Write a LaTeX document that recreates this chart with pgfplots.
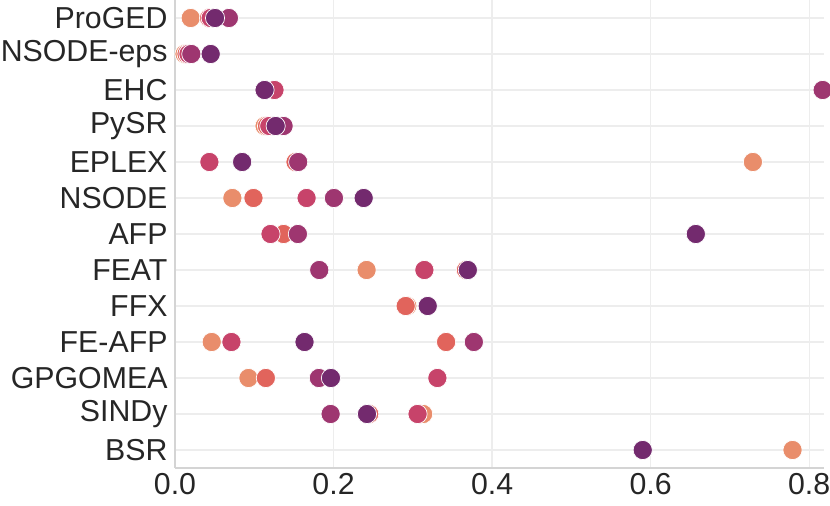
\documentclass[border=0pt]{standalone}
\usepackage{pgfplots}
\pgfplotsset{compat=1.18}
\usepackage{fontspec}
\setmainfont{Liberation Sans}
\definecolor{c1}{HTML}{E98D6B}
\definecolor{c2}{HTML}{E1645C}
\definecolor{c3}{HTML}{C7436A}
\definecolor{c4}{HTML}{9E3670}
\definecolor{c5}{HTML}{732A6E}
\definecolor{txt}{HTML}{262626}
\begin{document}
\begin{tikzpicture}
\begin{axis}[
  width=649pt, height=468pt, scale only axis,
  xmin=0, xmax=0.8187,
  ymin=-0.5, ymax=12.5, y dir=reverse,
  ytick={0,...,12},
  yticklabels={ProGED,NSODE-eps,EHC,PySR,EPLEX,NSODE,AFP,FEAT,FFX,FE-AFP,GPGOMEA,SINDy,BSR},
  xtick={0,0.2,0.4,0.6,0.8},
  xticklabels={0.0,0.2,0.4,0.6,0.8},
  tick label style={font=\fontsize{30.3}{35}\selectfont, text=txt},
  yticklabel style={xshift=-4pt},
  xticklabel style={yshift=-1.5pt},
  major tick length=0pt,
  axis x line*=bottom, axis y line*=left,
  axis line style={draw=black!17, line width=1.5pt, -},
  grid=major,
  major grid style={draw=black!7, line width=1.3pt},
  every axis plot/.append style={only marks, mark=*, mark size=9.6pt},
]
\addplot[mark options={fill=c1, draw=white, line width=0.7pt}] coordinates {
 (0.0198,0) (0.012,1) (0.113,3) (0.729,4) (0.0724,5) (0.137,6) (0.2417,7)
 (0.2931,8) (0.0463,9) (0.0927,10) (0.313,11) (0.779,12)};
\addplot[mark options={fill=c2, draw=white, line width=0.7pt}] coordinates {
 (0.043,0) (0.0145,1) (0.116,3) (0.152,4) (0.099,5) (0.137,6) (0.367,7)
 (0.291,8) (0.342,9) (0.1146,10) (0.245,11)};
\addplot[mark options={fill=c3, draw=white, line width=0.7pt}] coordinates {
 (0.045,0) (0.017,1) (0.1255,2) (0.119,3) (0.0434,4) (0.166,5) (0.1205,6)
 (0.3146,7) (0.0712,9) (0.331,10) (0.306,11)};
\addplot[mark options={fill=c4, draw=white, line width=0.7pt}] coordinates {
 (0.068,0) (0.0206,1) (0.817,2) (0.137,3) (0.1554,4) (0.2005,5) (0.155,6)
 (0.182,7) (0.377,9) (0.1815,10) (0.1963,11)};
\addplot[mark options={fill=c5, draw=white, line width=0.7pt}] coordinates {
 (0.0505,0) (0.045,1) (0.113,2) (0.127,3) (0.0847,4) (0.238,5) (0.657,6)
 (0.3694,7) (0.3188,8) (0.1634,9) (0.1967,10) (0.2422,11) (0.590,12)};
\end{axis}
\pgfresetboundingbox
\path[use as bounding box] ([xshift=-175pt,yshift=-38pt]current axis.south west) rectangle ([xshift=655pt]current axis.north west);
\end{tikzpicture}
\end{document}
